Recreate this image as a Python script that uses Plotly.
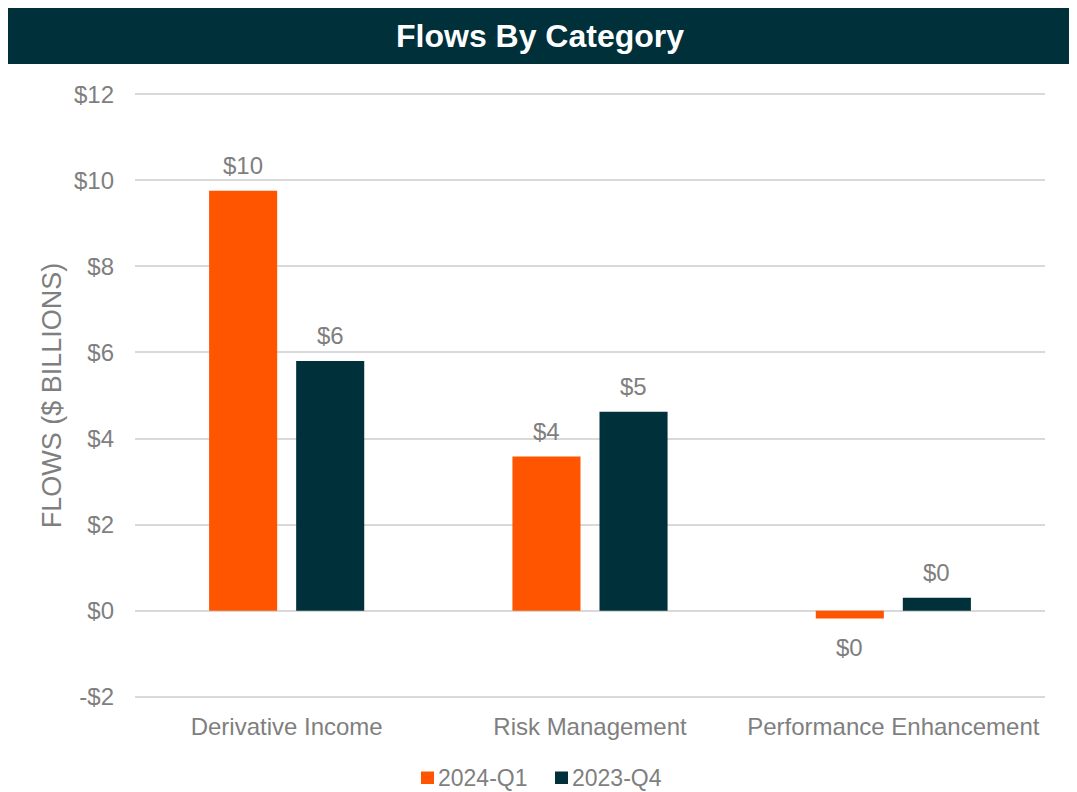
import plotly.graph_objects as go

categories = ["Derivative Income", "Risk Management", "Performance Enhancement"]
series_names = ["2024-Q1", "2023-Q4"]
values_2024_q1 = [9.76, 3.58, -0.18]
values_2023_q4 = [5.80, 4.62, 0.30]
y_ticks = [-2, 0, 2, 4, 6, 8, 10, 12]
y_tick_labels = ["-$2", "$0", "$2", "$4", "$6", "$8", "$10", "$12"]

ORANGE = "#FF5500"
TEAL = "#00303A"
GRAY = "#7F7F7F"
FONT = "Liberation Sans, Arial, sans-serif"
FS = 24

# page body has an 8px margin, so the figure is placed at (8, 8)
OFF = 8
W, H = 1069, 784
L, R, T, B = 135 - OFF, 32, 93 - OFF, 94
pw, ph = W - L - R, H - T - B
BARGAP, BARGROUPGAP = 0.426, 0.218


def px_x(x):
    return (x - OFF - L) / pw


def px_y(y):
    return (H - B - (y - OFF)) / ph


def label(v):
    r = round(v)
    if r == 0:
        r = 0
    return f"${r:.0f}" if r >= 0 else f"-${abs(r):.0f}"


series = [(series_names[0], values_2024_q1, ORANGE),
          (series_names[1], values_2023_q4, TEAL)]

fig = go.Figure()
annotations = []
shapes = [dict(type="rect", xref="paper", yref="paper",
               x0=px_x(3), x1=px_x(1073), y0=px_y(64), y1=px_y(8),
               fillcolor=TEAL, line_width=0, layer="below")]
slot = pw / len(categories) * (1 - BARGAP) / len(series)
legend_x = [421, 555]  # left edge of each legend swatch (page px)
for i, (name, vals, color) in enumerate(series):
    fig.add_trace(go.Bar(
        x=categories, y=vals, name=name, marker_color=color,
        marker_line_width=0, showlegend=False,
    ))
    shift = (i - (len(series) - 1) / 2) * slot
    for c, v in zip(categories, vals):
        annotations.append(dict(
            x=c, y=v, xref="x", yref="y", text=label(v), showarrow=False,
            xshift=shift, yshift=(10 if v >= 0 else -14),
            yanchor=("bottom" if v >= 0 else "top"), xanchor="center",
            font=dict(family=FONT, size=FS, color=GRAY)))
    # legend entry: swatch + text
    lx = legend_x[i]
    shapes.append(dict(type="rect", xref="paper", yref="paper",
                       x0=px_x(lx), x1=px_x(lx + 13), y0=px_y(784), y1=px_y(771.5),
                       fillcolor=color, line_width=0))
    annotations.append(dict(text=name, xref="paper", yref="paper",
                            x=px_x(lx + 15), y=px_y(778), xanchor="left", yanchor="middle",
                            showarrow=False,
                            font=dict(family=FONT, size=23, color=GRAY)))

annotations.append(dict(text="<b>Flows By Category</b>", xref="paper", yref="paper",
                        x=px_x(540), y=px_y(36), xanchor="center", yanchor="middle",
                        showarrow=False,
                        font=dict(family=FONT, size=32, color="white")))

fig.update_layout(
    width=W, height=H,
    margin=dict(l=L, r=R, t=T, b=B, autoexpand=False),
    paper_bgcolor="white", plot_bgcolor="white",
    barmode="group", bargap=BARGAP, bargroupgap=BARGROUPGAP,
    font=dict(family=FONT, color=GRAY, size=FS),
    showlegend=False,
    shapes=shapes,
    annotations=annotations,
)
fig.update_xaxes(showgrid=False, showline=False, ticks="", automargin=False,
                 tickfont=dict(family=FONT, size=FS, color=GRAY),
                 ticklabelstandoff=12)
fig.update_yaxes(range=[-2.03, 12.03], tickvals=y_ticks, ticktext=y_tick_labels,
                 showgrid=True, gridcolor="#D9D9D9", gridwidth=2,
                 zeroline=True, zerolinecolor="#D9D9D9", zerolinewidth=2,
                 showline=False, ticks="", automargin=False,
                 tickfont=dict(family=FONT, size=FS, color=GRAY),
                 ticklabelstandoff=20,
                 title=dict(text="FLOWS ($ BILLIONS)", standoff=4,
                            font=dict(family=FONT, size=27, color=GRAY)))

fig.write_html("out.html")
